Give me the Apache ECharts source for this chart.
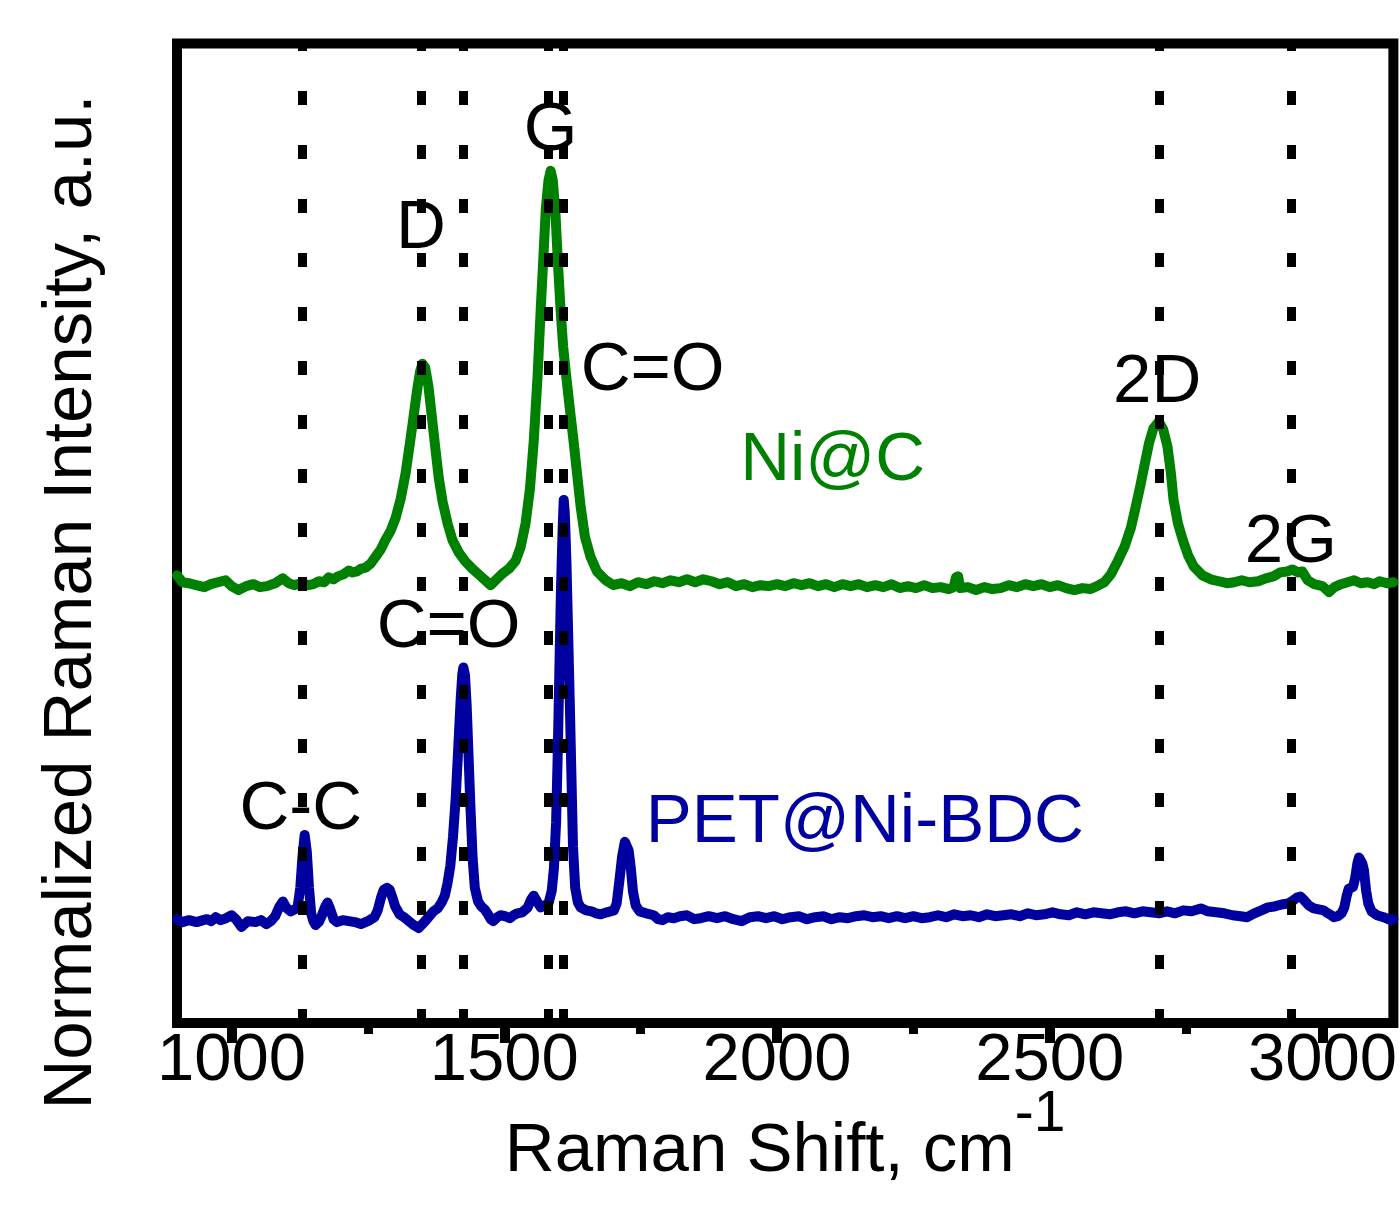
<!DOCTYPE html>
<html><head><meta charset="utf-8">
<script src="https://cdn.jsdelivr.net/npm/echarts@6/dist/echarts.min.js"></script>
<style>html,body{margin:0;padding:0;background:#fff}#c{width:1400px;height:1206px}</style>
</head><body><div id="c"></div>
<script>
const FONT = "'Liberation Sans', Arial, Helvetica, sans-serif";
const majorTicks = [1000, 1500, 2000, 2500, 3000];
const minorTicks = [1250, 1750, 2250, 2750];
const refLines = [1130, 1348, 1425, 1581, 1609, 2700, 2942];

// Ni@C spectrum [Raman shift, intensity]
const niC = [[900,45.7],[910,45.0],[921,44.9],[935,44.7],[950,44.5],[962,44.8],[975,45.0],[989,45.2],[1000,44.6],[1013,44.2],[1027,44.6],[1040,44.8],[1052,44.5],[1065,44.6],[1080,44.9],[1094,45.4],[1105,44.9],[1115,44.7],[1128,44.9],[1141,44.7],[1150,44.8],[1160,45.1],[1170,45.0],[1178,45.5],[1187,45.3],[1195,45.6],[1205,45.8],[1215,46.2],[1222,46.0],[1230,46.1],[1238,46.4],[1246,46.5],[1255,46.9],[1264,47.6],[1273,48.3],[1282,49.3],[1292,50.3],[1301,51.6],[1310,53.5],[1319,56.1],[1326,58.8],[1332,61.2],[1337,63.3],[1341,64.9],[1346,66.6],[1350,67.3],[1355,66.9],[1361,65.0],[1367,62.0],[1374,58.5],[1380,55.6],[1387,53.2],[1396,51.0],[1405,49.3],[1417,48.0],[1429,47.1],[1441,46.4],[1453,45.8],[1465,45.2],[1475,44.7],[1486,45.3],[1497,45.9],[1509,46.4],[1521,47.2],[1530,48.6],[1539,51.0],[1547,54.5],[1554,59.4],[1561,66.0],[1567,73.1],[1572,78.5],[1576,83.0],[1581,86.0],[1585,87.0],[1589,86.0],[1594,82.5],[1598,78.0],[1603,73.0],[1608,69.0],[1613,66.3],[1620,62.8],[1627,59.4],[1634,55.8],[1640,52.7],[1648,49.6],[1658,47.6],[1670,46.1],[1686,45.2],[1700,44.7],[1715,44.9],[1730,44.6],[1745,45.0],[1760,44.8],[1775,45.1],[1790,44.9],[1805,45.2],[1820,45.0],[1835,45.3],[1850,45.0],[1865,45.3],[1880,45.1],[1895,44.8],[1910,45.0],[1925,44.6],[1940,44.8],[1955,44.5],[1970,44.7],[1985,44.6],[2000,44.8],[2015,44.6],[2030,44.9],[2045,44.7],[2060,44.9],[2075,44.6],[2090,44.8],[2105,44.5],[2120,44.8],[2135,44.6],[2150,44.8],[2165,44.5],[2180,44.7],[2195,44.5],[2210,44.8],[2225,44.4],[2240,44.6],[2255,44.4],[2270,44.7],[2285,44.4],[2300,44.5],[2315,44.3],[2324,44.5],[2328,45.5],[2332,45.6],[2336,44.4],[2350,44.5],[2365,44.2],[2380,44.5],[2395,44.3],[2410,44.4],[2425,44.7],[2440,44.5],[2455,44.8],[2470,44.6],[2485,44.8],[2500,44.5],[2515,44.7],[2530,44.4],[2545,44.2],[2560,44.4],[2575,44.3],[2590,44.7],[2600,45.0],[2612,45.8],[2625,47.2],[2637,48.6],[2649,50.6],[2658,52.8],[2667,55.1],[2675,57.3],[2682,59.2],[2690,60.7],[2700,61.4],[2708,60.6],[2716,58.8],[2722,56.2],[2727,53.4],[2735,51.0],[2744,49.3],[2754,47.7],[2764,46.6],[2780,45.7],[2795,45.3],[2810,45.1],[2825,44.9],[2838,45.0],[2852,45.2],[2866,45.0],[2882,45.1],[2896,45.4],[2910,45.6],[2922,46.0],[2935,46.1],[2945,46.3],[2955,46.0],[2963,46.1],[2973,45.2],[2985,44.8],[3000,44.6],[3012,44.0],[3022,44.5],[3034,44.8],[3046,45.0],[3058,45.2],[3070,44.9],[3083,45.0],[3095,44.8],[3105,45.1],[3118,44.9],[3130,45.0]];

// PET@Ni-BDC spectrum [Raman shift, intensity]
const petNiBDC = [[900,10.6],[910,10.3],[922,10.5],[936,10.3],[948,10.5],[955,10.6],[963,10.4],[971,10.8],[980,10.5],[990,10.7],[1000,11.0],[1008,10.6],[1018,9.8],[1030,10.4],[1044,10.3],[1054,10.5],[1064,10.1],[1072,10.4],[1080,10.9],[1087,11.8],[1094,12.4],[1100,11.8],[1108,11.4],[1116,11.6],[1121,11.8],[1126,13.8],[1130,17.0],[1134,19.2],[1138,17.5],[1142,13.8],[1146,11.2],[1150,10.4],[1154,10.0],[1160,10.3],[1165,10.9],[1171,11.8],[1176,12.3],[1181,11.6],[1187,10.6],[1193,10.3],[1204,10.5],[1215,10.4],[1226,10.3],[1237,10.1],[1250,10.4],[1262,10.8],[1268,11.5],[1274,12.8],[1279,13.6],[1285,13.8],[1290,13.6],[1295,12.8],[1300,11.9],[1308,11.1],[1316,10.8],[1325,10.4],[1334,10.0],[1343,9.7],[1350,10.1],[1358,10.6],[1364,11.0],[1370,11.4],[1378,11.7],[1385,12.3],[1391,13.0],[1396,14.3],[1401,16.0],[1406,19.0],[1411,23.0],[1416,28.5],[1420,33.0],[1423,35.6],[1425,36.3],[1428,35.5],[1431,32.5],[1434,28.0],[1438,22.0],[1442,16.8],[1446,13.8],[1452,12.4],[1458,11.9],[1464,11.6],[1469,11.2],[1475,10.6],[1480,10.4],[1487,10.8],[1493,11.0],[1502,10.9],[1510,10.7],[1517,11.0],[1524,11.2],[1533,11.3],[1543,11.8],[1549,12.6],[1554,13.0],[1560,12.4],[1567,11.8],[1574,12.0],[1581,12.2],[1587,13.5],[1591,15.8],[1595,20.5],[1598,27.5],[1601,36.0],[1604,44.5],[1607,50.5],[1609,53.4],[1611,52.0],[1614,47.0],[1617,40.0],[1620,33.0],[1623,25.5],[1626,18.0],[1630,13.8],[1635,12.3],[1640,11.8],[1650,11.5],[1660,11.4],[1668,11.2],[1677,11.1],[1688,11.3],[1701,11.5],[1706,12.2],[1711,14.5],[1716,17.0],[1721,18.5],[1724,18.7],[1728,17.6],[1732,15.8],[1736,13.4],[1741,12.0],[1748,11.4],[1760,11.2],[1774,11.0],[1782,10.6],[1790,10.5],[1800,10.8],[1811,10.7],[1822,10.9],[1835,11.0],[1848,10.6],[1860,10.7],[1875,10.9],[1890,10.7],[1905,10.9],[1920,10.6],[1935,10.4],[1950,10.8],[1965,10.9],[1980,10.7],[1995,10.9],[2010,10.6],[2025,10.8],[2040,10.9],[2055,10.6],[2070,10.8],[2085,10.9],[2100,10.6],[2115,10.8],[2130,10.7],[2145,10.9],[2160,11.0],[2175,10.8],[2190,10.9],[2205,10.7],[2220,10.9],[2235,10.7],[2250,10.9],[2265,10.7],[2280,10.8],[2295,11.0],[2310,10.8],[2325,11.1],[2340,10.9],[2355,11.0],[2370,10.8],[2385,11.1],[2400,10.9],[2415,11.0],[2430,11.1],[2445,10.9],[2460,11.2],[2475,11.0],[2490,11.1],[2505,11.3],[2520,11.1],[2535,11.0],[2550,11.3],[2565,11.1],[2580,11.3],[2595,11.2],[2610,11.1],[2625,11.3],[2640,11.4],[2655,11.2],[2670,11.4],[2685,11.3],[2700,11.2],[2715,11.4],[2730,11.2],[2745,11.5],[2760,11.4],[2777,11.7],[2790,11.4],[2805,11.3],[2820,11.2],[2835,11.0],[2850,10.9],[2862,10.8],[2875,11.2],[2888,11.5],[2900,11.8],[2912,11.9],[2925,12.1],[2937,12.2],[2946,12.5],[2953,12.8],[2960,12.9],[2967,12.5],[2975,12.0],[2984,11.7],[2993,11.6],[3002,11.5],[3010,11.2],[3016,11.0],[3021,10.8],[3028,10.9],[3035,11.2],[3040,11.8],[3044,12.9],[3048,13.7],[3052,13.8],[3056,13.9],[3060,14.8],[3064,16.3],[3067,16.9],[3070,16.8],[3073,16.3],[3076,15.6],[3080,13.5],[3084,12.2],[3090,11.4],[3100,11.0],[3112,10.8],[3125,10.5],[3130,10.6]];

// Annotation texts and their anchor positions [text, shift, intensity]
const peakLabels = [['G',1585,91.1],['D',1347,81.1],['C=O',1772,66.6],['2D',2697,65.3],['2G',2942,49.0],['C=O',1398,40.3],['C-C',1127,21.7]];
const seriesLabels = [['Ni@C',2102,57.4,'#008000'],['PET@Ni-BDC',2161,20.4,'#0000A0']];

const chart = echarts.init(document.getElementById('c'), null, {renderer:'canvas'});
const textItem = (t) => ({name:t[0], value:[t[1], t[2]], label:{color:t[3] || '#000'}});
const labelStyle = {show:true, position:'inside', formatter:'{b}', fontSize:69, fontFamily:FONT,
  textBorderWidth:0, textBorderColor:'transparent', textShadowBlur:0, opacity:1};
chart.setOption({
  animation:false,
  backgroundColor:'#fff',
  grid:{left:177, top:43.5, width:1217, height:979.5, show:true, borderColor:'#000', borderWidth:10, backgroundColor:'transparent'},
  xAxis:[{
    type:'value', min:900, max:3130,
    axisLine:{show:false}, splitLine:{show:false},
    axisTick:{show:true, customValues:majorTicks, length:20, lineStyle:{width:10, color:'#000'}},
    axisLabel:{customValues:majorTicks, formatter:(v) => String(v), fontSize:67, color:'#000', fontFamily:FONT, margin:5},
    name:'{a|Raman Shift, cm}{b|-1}', nameLocation:'middle', nameGap:64, nameMoveOverlap:false,
    nameTextStyle:{fontSize:69, fontFamily:FONT, color:'#000',
      rich:{a:{fontSize:69, fontFamily:FONT, color:'#000', verticalAlign:'bottom'},
            b:{fontSize:57, fontFamily:FONT, color:'#000', verticalAlign:'bottom', padding:[0,0,42,0]}}}
  },{
    type:'value', min:900, max:3130, position:'bottom',
    axisLine:{show:false}, splitLine:{show:false},
    axisTick:{show:true, customValues:minorTicks, length:11, lineStyle:{width:9, color:'#000'}},
    axisLabel:{show:false}
  }],
  yAxis:{type:'value', min:0, max:100, show:false},
  graphic:[{type:'text', x:72, y:602, rotation:Math.PI/2,
    style:{text:'Normalized Raman Intensity, a.u.', fontSize:69, fontFamily:FONT, fill:'#000', align:'center', verticalAlign:'middle'}}],
  series:[
    {type:'line', name:'Ni@C', data:niC, showSymbol:false, symbol:'none', z:3,
     lineStyle:{color:'#008000', width:10, cap:'round', join:'round'}},
    {type:'line', name:'PET@Ni-BDC', data:petNiBDC, showSymbol:false, symbol:'none', z:4,
     lineStyle:{color:'#0000A0', width:10, cap:'round', join:'round'},
     markLine:{silent:true, symbol:['none','none'], label:{show:false},
       lineStyle:{color:'#000', width:9, type:[14,40], opacity:1}, emphasis:{disabled:true},
       data:refLines.map(v => ({xAxis:v}))}},
    {type:'scatter', data:peakLabels.map(textItem), symbolSize:1, itemStyle:{color:'rgba(0,0,0,0)'}, z:6, silent:true,
     label:labelStyle},
    {type:'scatter', data:seriesLabels.map(textItem), symbolSize:1, itemStyle:{color:'rgba(0,0,0,0)'}, z:6, silent:true,
     label:labelStyle}
  ]
});
</script></body></html>
